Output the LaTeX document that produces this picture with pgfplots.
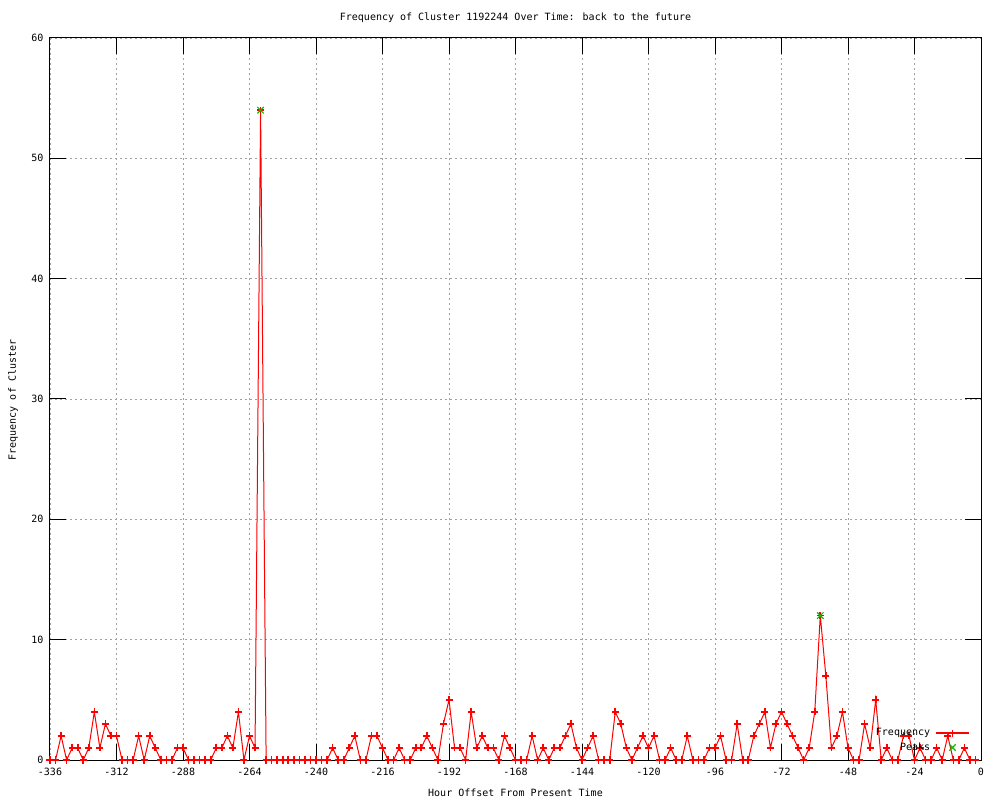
\documentclass[border=0pt]{standalone}
\usepackage{fontspec}
\setmainfont{DejaVu Sans Mono}
\usepackage{pgfplots}
\usepackage{pgfplotstable}
\pgfplotsset{compat=1.18}
\definecolor{gpred}{RGB}{255,0,0}
\definecolor{gpgreen}{RGB}{0,192,0}
\definecolor{gridgray}{RGB}{160,160,160}
\pgfplotstableread{
h f
-336 0
-334 0
-332 2
-330 0
-328 1
-326 1
-324 0
-322 1
-320 4
-318 1
-316 3
-314 2
-312 2
-310 0
-308 0
-306 0
-304 2
-302 0
-300 2
-298 1
-296 0
-294 0
-292 0
-290 1
-288 1
-286 0
-284 0
-282 0
-280 0
-278 0
-276 1
-274 1
-272 2
-270 1
-268 4
-266 0
-264 2
-262 1
-260 54
-258 0
-256 0
-254 0
-252 0
-250 0
-248 0
-246 0
-244 0
-242 0
-240 0
-238 0
-236 0
-234 1
-232 0
-230 0
-228 1
-226 2
-224 0
-222 0
-220 2
-218 2
-216 1
-214 0
-212 0
-210 1
-208 0
-206 0
-204 1
-202 1
-200 2
-198 1
-196 0
-194 3
-192 5
-190 1
-188 1
-186 0
-184 4
-182 1
-180 2
-178 1
-176 1
-174 0
-172 2
-170 1
-168 0
-166 0
-164 0
-162 2
-160 0
-158 1
-156 0
-154 1
-152 1
-150 2
-148 3
-146 1
-144 0
-142 1
-140 2
-138 0
-136 0
-134 0
-132 4
-130 3
-128 1
-126 0
-124 1
-122 2
-120 1
-118 2
-116 0
-114 0
-112 1
-110 0
-108 0
-106 2
-104 0
-102 0
-100 0
-98 1
-96 1
-94 2
-92 0
-90 0
-88 3
-86 0
-84 0
-82 2
-80 3
-78 4
-76 1
-74 3
-72 4
-70 3
-68 2
-66 1
-64 0
-62 1
-60 4
-58 12
-56 7
-54 1
-52 2
-50 4
-48 1
-46 0
-44 0
-42 3
-40 1
-38 5
-36 0
-34 1
-32 0
-30 0
-28 2
-26 2
-24 0
-22 1
-20 0
-18 0
-16 1
-14 0
-12 2
-10 0
-8 0
-6 1
-4 0
-2 0
}\freqtable
\pgfplotstableread{
h f
-260 54
-58 12
}\peaktable
\begin{document}
\begin{tikzpicture}[font=\fontsize{10bp}{12bp}\selectfont]
\path[use as bounding box] (-50bp,-40bp) rectangle (950bp,760bp);
\begin{axis}[
  at={(0,0)}, anchor=south west,
  scale only axis, width=931bp, height=722bp,
  xmin=-336, xmax=0, ymin=0, ymax=60,
  xtick={-336,-312,...,0}, ytick={0,10,...,60},
  grid=major,
  major grid style={gridgray, line width=0.8bp, dash pattern=on 2bp off 3bp},
  tick align=inside, major tick length=16bp,
  tick style={black, line width=1bp},
  axis line style={black, line width=1bp},
  /pgf/number format/assume math mode=true,
  xticklabel style={yshift=-5bp},
  yticklabel style={xshift=-3bp},
  legend plot pos=right,
  legend cell align=right,
  legend style={at={(axis cs:-4,0.56)}, anchor=south east, draw=none, fill=none,
    inner sep=0pt, row sep=3.5bp, column sep=4bp, nodes={inner sep=1bp}},
]
\addplot[color=gpred, line width=1bp, mark=+, mark size=3.5bp,
  mark options={draw=gpred, line width=1.6bp, solid},
  legend image code/.code={\draw[line width=1.6bp, mark repeat=2,mark phase=2] plot coordinates {(0bp,0bp)(16.5bp,0bp)(33bp,0bp)};}]
  table[x=h,y=f] {\freqtable};
\addlegendentry{Frequency}
\addplot[color=gpgreen, only marks, mark=x, mark size=4.5bp,
  mark options={draw=gpgreen, line width=1.2bp, solid},
  legend image code/.code={\draw[mark repeat=2,mark phase=2] plot coordinates {(0bp,0bp)(16.5bp,0bp)(33bp,0bp)};}]
  table[x=h,y=f] {\peaktable};
\addlegendentry{Peaks}
\end{axis}
\node at (465.5bp,742bp) {Frequency of Cluster 1192244 Over Time: back to the future};
\node at (465.5bp,-33bp) {Hour Offset From Present Time};
\node[rotate=90] at (-37bp,360bp) {Frequency of Cluster};
\end{tikzpicture}
\end{document}
